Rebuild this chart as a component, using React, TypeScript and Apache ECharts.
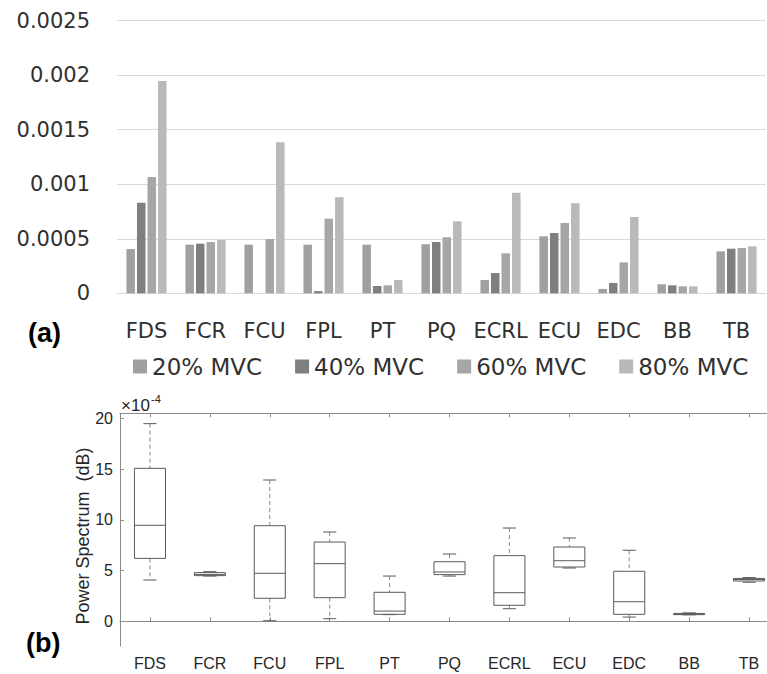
import React, { useEffect, useRef } from 'react';
import * as echarts from 'echarts';

const categories = ['FDS', 'FCR', 'FCU', 'FPL', 'PT', 'PQ', 'ECRL', 'ECU', 'EDC', 'BB', 'TB'];
const seriesNames = ['20% MVC', '40% MVC', '60% MVC', '80% MVC'];
const mvc20 = [0.000406, 0.000446, 0.000446, 0.000446, 0.000446, 0.00045, 0.000122, 0.000523, 0.00004, 0.000083, 0.000385];
const mvc40 = [0.00083, 0.000455, 0, 0.00002, 0.000067, 0.00047, 0.000186, 0.000553, 0.000095, 0.000073, 0.000409];
const mvc60 = [0.001067, 0.00047, 0.000498, 0.000684, 0.000073, 0.000514, 0.000367, 0.000645, 0.000284, 0.000064, 0.000415];
const mvc80 = [0.001947, 0.000489, 0.001385, 0.00088, 0.000122, 0.00066, 0.000923, 0.000825, 0.0007, 0.000064, 0.000431];
const seriesColors = ['#a0a0a0', '#7f7f7f', '#a6a6a6', '#b9b9b9'];
const yTickLabelsA = ['0', '0.0005', '0.001', '0.0015', '0.002', '0.0025'];

// box plot stats (x 1e-4): [min, q1, median, q3, max]
const boxFDS = [4.07, 6.2, 9.46, 15.07, 19.47];
const boxFCR = [4.46, 4.5, 4.62, 4.8, 4.89];
const boxFCU = [0.06, 2.27, 4.73, 9.42, 13.92];
const boxFPL = [0.26, 2.33, 5.68, 7.81, 8.8];
const boxPT = [0.66, 0.69, 1.01, 2.86, 4.46];
const boxPQ = [4.46, 4.6, 4.86, 5.87, 6.63];
const boxECRL = [1.24, 1.58, 2.82, 6.47, 9.19];
const boxECU = [5.25, 5.35, 5.97, 7.32, 8.21];
const boxEDC = [0.42, 0.69, 1.93, 4.93, 7.0];
const boxBB = [0.64, 0.66, 0.7, 0.78, 0.83];
const boxTB = [3.85, 3.97, 4.12, 4.23, 4.31];
const boxStats = [boxFDS, boxFCR, boxFCU, boxFPL, boxPT, boxPQ, boxECRL, boxECU, boxEDC, boxBB, boxTB];
const yTicksB = [0, 5, 10, 15, 20];
const yNameB = 'Power Spectrum  (dB)';

export default function App() {
  const ref = useRef<HTMLDivElement>(null);
  useEffect(() => {
    const chart = echarts.init(ref.current as HTMLDivElement, null, { renderer: 'svg' });
    const barSeries = [mvc20, mvc40, mvc60, mvc80].map((d, i) => ({
      type: 'bar',
      name: seriesNames[i],
      xAxisIndex: 0,
      yAxisIndex: 0,
      data: d,
      barWidth: 8.5,
      barGap: '24%',
      itemStyle: { color: seriesColors[i] },
    }));
    const axisColor = '#8c8c8c';
    const boxStroke = '#5a5a5a';
    const option: any = {
      animation: false,
      grid: [
        { left: 117, right: 1, top: 20.7, height: 272.6, outerBoundsMode: 'none' },
        { left: 120, right: -12, top: 413.3, height: 232.7, outerBoundsMode: 'none' },
      ],
      legend: {
        data: seriesNames,
        left: 128,
        top: 350,
        itemWidth: 14,
        itemHeight: 14,
        itemGap: 33,
        icon: 'rect',
        textStyle: { fontFamily: 'DejaVu Sans', fontSize: 23, color: '#303030' },
      },
      xAxis: [
        {
          type: 'category',
          gridIndex: 0,
          data: categories,
          axisLine: { show: true, lineStyle: { color: '#d9d9d9', width: 1 } },
          axisTick: { show: false },
          axisLabel: { interval: 0, margin: 27, fontFamily: 'DejaVu Sans', fontSize: 21, color: '#303030' },
        },
        {
          type: 'category',
          gridIndex: 1,
          data: categories,
          position: 'bottom',
          axisLine: { show: true, lineStyle: { color: axisColor, width: 1 } },
          axisTick: { show: true, inside: true, length: 4, alignWithLabel: true, lineStyle: { color: axisColor } },
          axisLabel: { interval: 0, margin: 9, fontFamily: 'Liberation Sans', fontSize: 16, color: '#262626' },
        },
        {
          type: 'category',
          gridIndex: 1,
          data: categories,
          position: 'top',
          axisLine: { show: true, lineStyle: { color: axisColor, width: 1 } },
          axisTick: { show: true, inside: true, length: 4, alignWithLabel: true, lineStyle: { color: axisColor } },
          axisLabel: { show: false },
        },
      ],
      yAxis: [
        {
          type: 'value',
          gridIndex: 0,
          min: 0,
          max: 0.0025,
          interval: 0.0005,
          axisLine: { show: false },
          axisTick: { show: false },
          splitLine: { show: true, lineStyle: { color: '#d9d9d9', width: 1 } },
          axisLabel: {
            margin: 27,
            fontFamily: 'DejaVu Sans',
            fontSize: 21,
            color: '#303030',
            formatter: (v: number) => yTickLabelsA[Math.round(v / 0.0005)] ?? '',
          },
        },
        {
          type: 'value',
          gridIndex: 1,
          min: -2.43,
          max: 20.49,
          axisLine: { show: true, lineStyle: { color: axisColor, width: 1 } },
          axisTick: { show: true, inside: true, length: 4, customValues: yTicksB, lineStyle: { color: axisColor } },
          splitLine: { show: false },
          axisLabel: {
            customValues: yTicksB,
            margin: 7,
            fontFamily: 'Liberation Sans',
            fontSize: 16,
            color: '#262626',
          },
        },
      ],
      series: [
        ...barSeries,
        {
          type: 'custom',
          xAxisIndex: 1,
          yAxisIndex: 1,
          data: boxStats.map((s, i) => [i, ...s]),
          encode: { x: 0, y: [1, 2, 3, 4, 5] },
          renderItem: (params: any, api: any) => {
            const x = api.value(0);
            const pMin = api.coord([x, api.value(1)]);
            const pQ1 = api.coord([x, api.value(2)]);
            const pMed = api.coord([x, api.value(3)]);
            const pQ3 = api.coord([x, api.value(4)]);
            const pMax = api.coord([x, api.value(5)]);
            const band = api.size([1, 0])[0];
            const hw = band * 0.259;
            const cw = band * 0.11;
            const cx = pMed[0];
            const dash = { stroke: '#8a8a8a', lineWidth: 1, lineDash: [4, 3], fill: null };
            const solid = { stroke: boxStroke, lineWidth: 1, fill: null };
            return {
              type: 'group',
              children: [
                { type: 'line', shape: { x1: cx, y1: pMax[1], x2: cx, y2: pQ3[1] }, style: dash },
                { type: 'line', shape: { x1: cx, y1: pQ1[1], x2: cx, y2: pMin[1] }, style: dash },
                { type: 'line', shape: { x1: cx - cw, y1: pMax[1], x2: cx + cw, y2: pMax[1] }, style: solid },
                { type: 'line', shape: { x1: cx - cw, y1: pMin[1], x2: cx + cw, y2: pMin[1] }, style: solid },
                {
                  type: 'rect',
                  shape: { x: cx - hw, y: pQ3[1], width: 2 * hw, height: pQ1[1] - pQ3[1] },
                  style: { stroke: boxStroke, lineWidth: 1, fill: 'none' },
                },
                { type: 'line', shape: { x1: cx - hw, y1: pMed[1], x2: cx + hw, y2: pMed[1] }, style: solid },
              ],
            };
          },
        },
      ],
      graphic: [
        {
          type: 'text',
          left: 28,
          top: 319,
          style: { text: '(a)', fontFamily: 'Liberation Sans', fontWeight: 'bold', fontSize: 27, fill: '#000' },
        },
        {
          type: 'text',
          left: 26,
          top: 629,
          style: { text: '(b)', fontFamily: 'Liberation Sans', fontWeight: 'bold', fontSize: 27, fill: '#000' },
        },
        {
          type: 'text',
          x: 83,
          y: 536,
          rotation: Math.PI / 2,
          style: {
            text: yNameB,
            fontFamily: 'Liberation Sans',
            fontSize: 18,
            fill: '#262626',
            align: 'center',
            verticalAlign: 'middle',
          },
        },
        {
          type: 'text',
          left: 121,
          top: 397,
          style: { text: '\u00d710', fontFamily: 'Liberation Sans', fontSize: 17, fill: '#262626' },
        },
        {
          type: 'text',
          left: 151,
          top: 393,
          style: { text: '-4', fontFamily: 'Liberation Sans', fontSize: 11, fill: '#262626' },
        },
      ],
    };
    chart.setOption(option);
    return () => chart.dispose();
  }, []);
  return (
    <div
      ref={ref}
      style={{ position: 'absolute', left: 0, top: 0, width: 767, height: 674, background: '#fff' }}
    />
  );
}
